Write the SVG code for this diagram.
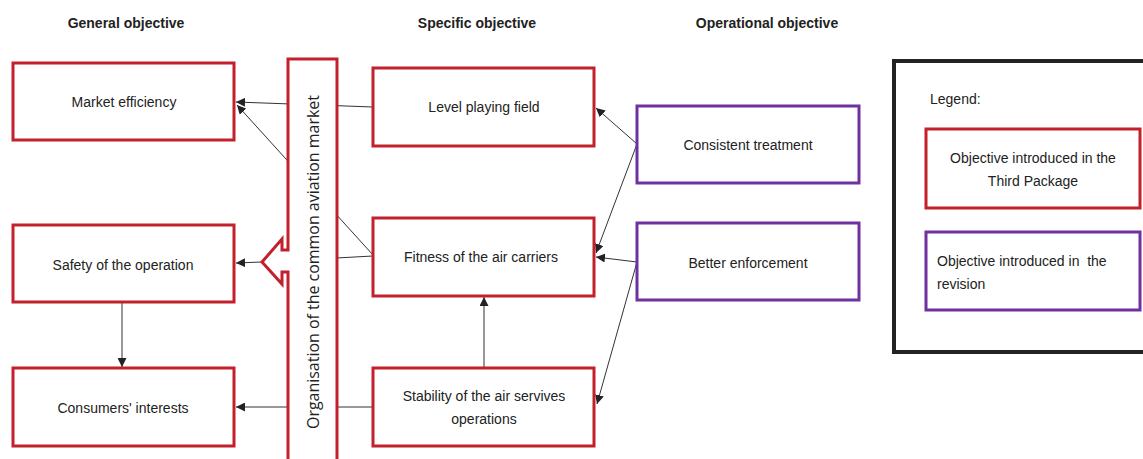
<svg xmlns="http://www.w3.org/2000/svg" width="1143" height="459" viewBox="0 0 1143 459">
<defs>
<style>
.red{fill:#fff;stroke:#c4202b;stroke-width:3}
.pur{fill:#fff;stroke:#7030a0;stroke-width:3}
.t{font-family:"Liberation Sans",Arial,sans-serif;font-size:14px;fill:#222;text-anchor:middle}
.h{font-family:"Liberation Sans",Arial,sans-serif;font-size:14px;font-weight:bold;fill:#222;text-anchor:middle}
.c{stroke:#333;stroke-width:1;fill:none}
</style>
<marker id="ah" viewBox="0 0 10 10" refX="10" refY="5" markerWidth="9" markerHeight="9" markerUnits="userSpaceOnUse" orient="auto">
<path d="M0,0 L10,5 L0,10 Z" fill="#222"/>
</marker>
</defs>
<rect width="1143" height="459" fill="#fff"/>
<text class="h" x="126" y="28">General objective</text>
<text class="h" x="477" y="28">Specific objective</text>
<text class="h" x="767" y="28">Operational objective</text>

<g id="connectors">
<line class="c" x1="373" y1="107" x2="236" y2="102" marker-end="url(#ah)"/>
<line class="c" x1="373" y1="255" x2="237" y2="105" marker-end="url(#ah)"/>
<line class="c" x1="373" y1="256" x2="262" y2="262"/>
<line class="c" x1="262" y1="262" x2="236" y2="263" marker-end="url(#ah)"/>
<line class="c" x1="373" y1="407" x2="236" y2="407" stroke="#777" marker-end="url(#ah)"/>
<line class="c" x1="122" y1="303" x2="122" y2="367" marker-end="url(#ah)"/>
<line class="c" x1="484" y1="368" x2="484" y2="297" marker-end="url(#ah)"/>
<line class="c" x1="637" y1="144" x2="596" y2="108" marker-end="url(#ah)"/>
<line class="c" x1="637" y1="144" x2="596" y2="253" marker-end="url(#ah)"/>
<line class="c" x1="637" y1="262" x2="596" y2="257" marker-end="url(#ah)"/>
<line class="c" x1="637" y1="262" x2="597" y2="404" marker-end="url(#ah)"/>
</g>

<g id="market-efficiency"><rect class="red" x="13" y="63" width="221" height="77"/><text class="t" x="124" y="107">Market efficiency</text></g>
<g id="safety"><rect class="red" x="13" y="225" width="221" height="77"/><text class="t" x="123" y="270">Safety of the operation</text></g>
<g id="consumers"><rect class="red" x="13" y="368" width="221" height="78"/><text class="t" x="123" y="413">Consumers' interests</text></g>

<g id="organisation">
<polygon class="red" points="288,59 337,59 337,470 288,470 288,272 282,272 282,284 262,262 282,239 282,250 288,250"/>
<text transform="translate(319,262) rotate(-90)" font-family="'Open Sans','DejaVu Sans',sans-serif" font-size="16" fill="#222" text-anchor="middle" textLength="334" lengthAdjust="spacing">Organisation of the common aviation market</text>
</g>

<g id="level-playing-field"><rect class="red" x="373" y="68" width="221" height="78"/><text class="t" x="484" y="112">Level playing field</text></g>
<g id="fitness"><rect class="red" x="373" y="218" width="221" height="78"/><text class="t" x="481" y="262">Fitness of the air carriers</text></g>
<g id="stability"><rect class="red" x="373" y="368" width="221" height="78"/><text class="t" x="484" y="401">Stability of the air servives</text><text class="t" x="484" y="424">operations</text></g>

<g id="consistent-treatment"><rect class="pur" x="637" y="106" width="222" height="77"/><text class="t" x="748" y="150">Consistent treatment</text></g>
<g id="better-enforcement"><rect class="pur" x="637" y="223" width="222" height="77"/><text class="t" x="748" y="268">Better enforcement</text></g>

<g id="legend">
<rect x="894" y="61" width="260" height="291" fill="#fff" stroke="#222" stroke-width="4"/>
<text class="t" x="930" y="104" style="text-anchor:start">Legend:</text>
<rect class="red" x="926" y="129" width="214" height="79"/>
<text class="t" x="1033" y="163">Objective introduced in the</text>
<text class="t" x="1033" y="186">Third Package</text>
<rect class="pur" x="926" y="232" width="214" height="78"/>
<text class="t" x="937" y="266" style="text-anchor:start;white-space:pre" xml:space="preserve">Objective introduced in  the</text>
<text class="t" x="937" y="289" style="text-anchor:start">revision</text>
</g>
</svg>
